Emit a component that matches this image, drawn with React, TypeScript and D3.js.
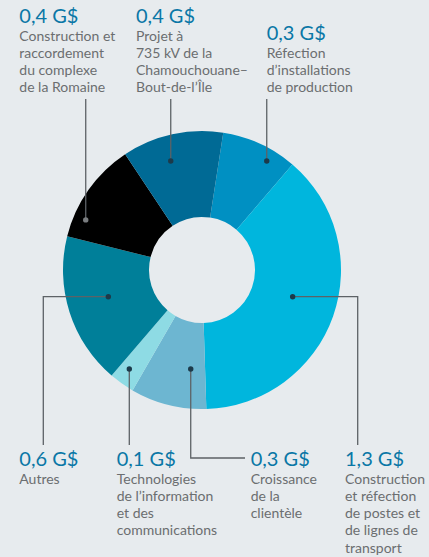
import React, { useEffect } from 'react';
import * as d3 from 'd3';

// Data (clockwise order starting near 12 o'clock)
const categories = [
  'Réfection d’installations de production',
  'Construction et réfection de postes et de lignes de transport',
  'Croissance de la clientèle',
  'Technologies de l’information et des communications',
  'Autres',
  'Construction et raccordement du complexe de la Romaine',
  'Projet à 735 kV de la Chamouchouane–Bout-de-l’Île',
];
const values = [0.3, 1.3, 0.3, 0.1, 0.6, 0.4, 0.4];
const valueLabels = ['0,3 G$', '1,3 G$', '0,3 G$', '0,1 G$', '0,6 G$', '0,4 G$', '0,4 G$'];
const labelLines = [
  ['Réfection', 'd’installations', 'de production'],
  ['Construction', 'et réfection', 'de postes et', 'de lignes de', 'transport'],
  ['Croissance', 'de la', 'clientèle'],
  ['Technologies', 'de l’information', 'et des', 'communications'],
  ['Autres'],
  ['Construction et', 'raccordement', 'du complexe', 'de la Romaine'],
  ['Projet à', '735 kV de la', 'Chamouchouane–', 'Bout-de-l’Île'],
];
const colors = ['#0090C2', '#00B6DD', '#6DB6D1', '#8EDBE4', '#007F99', '#000000', '#006A95'];

// Layout
const W = 429, H = 557;
const cx = 202, cy = 270, R = 139, r0 = 53;
const startDeg = 8.8;
// label anchor positions
const labelPos = [
  { x: 266.7, y: 40 },
  { x: 345, y: 466 },
  { x: 250.7, y: 466 },
  { x: 116.7, y: 466 },
  { x: 19.3, y: 466 },
  { x: 19.3, y: 23 },
  { x: 136, y: 23 },
];
// dot placement in polar terms (deg from 12 o'clock, radius)
const dotPolar = [
  { a: 30.7, r: 126.8 },
  { a: 106.4, r: 94.5 },
  { a: 186.5, r: 99.6 },
  { a: 216.3, r: 122.8 },
  { a: 254.1, r: 97.4 },
  { a: 293.3, r: 126.6 },
  { a: 344, r: 113.4 },
];
const lineH = 17.3;

export default function App() {
  useEffect(() => {
    document.body.style.margin = '0';
  }, []);

  const pie = d3
    .pie<number>()
    .sort(null)
    .value((d) => d)
    .startAngle((startDeg * Math.PI) / 180)
    .endAngle((startDeg * Math.PI) / 180 + 2 * Math.PI);
  const arcs = pie(values);
  const arc = d3.arc<d3.PieArcDatum<number>>().innerRadius(r0).outerRadius(R);

  const dots = dotPolar.map((p) => {
    const t = (p.a * Math.PI) / 180;
    return { x: cx + p.r * Math.sin(t), y: cy - p.r * Math.cos(t) };
  });

  const leaderPaths = dots.map((d, i) => {
    const p = d3.path();
    p.moveTo(d.x, d.y);
    if (i === 0 || i === 5 || i === 6) {
      p.lineTo(d.x, 99);
    } else if (i === 1) {
      p.lineTo(357.7, d.y);
      p.lineTo(357.7, 445);
    } else if (i === 4) {
      p.lineTo(43.3, d.y);
      p.lineTo(43.3, 445);
    } else if (i === 3) {
      p.lineTo(d.x, 445);
    } else if (i === 2) {
      p.lineTo(d.x, 458);
      p.lineTo(245, 458);
    }
    return p.toString();
  });

  const font = 'Lato, "Open Sans", sans-serif';

  return (
    <svg width={W} height={H} style={{ display: 'block', background: '#E7EBEE' }}>
      <rect x={0} y={0} width={W} height={H} fill="#E7EBEE" />
      <g transform={`translate(${cx},${cy})`}>
        {arcs.map((a, i) => (
          <path key={categories[i]} d={arc(a) || ''} fill={colors[i]} />
        ))}
      </g>
      {leaderPaths.map((d, i) => (
        <path key={'l' + i} d={d} fill="none" stroke="#5d6266" strokeWidth={1.3} />
      ))}
      {dots.map((d, i) => (
        <circle key={'d' + i} cx={d.x} cy={d.y} r={2.7} fill={i === 5 ? '#7a7d80' : '#1c3a4a'} />
      ))}
      {labelPos.map((p, i) => (
        <g key={'t' + i} fontFamily={font}>
          <text x={p.x} y={p.y} fontSize={20} fill="#0A77A6">
            {valueLabels[i]}
          </text>
          {labelLines[i].map((ln, j) => (
            <text key={j} x={p.x} y={p.y + 17.5 + j * lineH} fontSize={14} fill="#6b6e70">
              {ln}
            </text>
          ))}
        </g>
      ))}
    </svg>
  );
}
